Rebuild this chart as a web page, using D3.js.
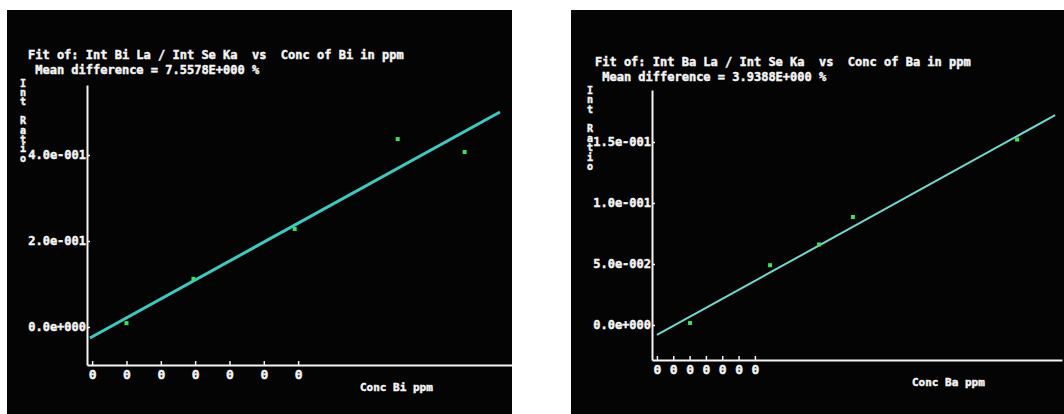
<!DOCTYPE html>
<html>
<head>
<meta charset="utf-8">
<script src="https://cdn.jsdelivr.net/npm/d3@7"></script>
<style>
  body { margin: 0; background: #fff; }
  text { font-family: "DejaVu Sans Mono", monospace; font-weight: bold; fill: #f4f4f4; stroke: #f4f4f4; stroke-width: 0.45px; }
</style>
</head>
<body>
<div class="container"></div>
<script>
// Bi calibration (left screen)
const biTitle = "Fit of: Int Bi La / Int Se Ka  vs  Conc of Bi in ppm";
const biMean = " Mean difference = 7.5578E+000 %";
const biXLabel = "Conc Bi ppm";
const biConc = [1.0, 2.95, 5.9, 8.9, 10.85];
const biRatio = [0.009, 0.112, 0.228, 0.437, 0.407];
const biFitConc = [-0.065, 11.88];
const biFitRatio = [-0.0256, 0.5];
const biXTicks = [0, 1, 2, 3, 4, 5, 6];
const biYTicks = [0, 0.2, 0.4];
const biYTickLabels = ["0.0e+000", "2.0e-001", "4.0e-001"];

// Ba calibration (right screen)
const baTitle = "Fit of: Int Ba La / Int Se Ka  vs  Conc of Ba in ppm";
const baMean = " Mean difference = 3.9388E+000 %";
const baXLabel = "Conc Ba ppm";
const baConc = [2.03, 6.93, 9.93, 12.0, 22.05];
const baRatio = [0.0016, 0.049, 0.066, 0.0885, 0.152];
const baFitConc = [0, 24.38];
const baFitRatio = [-0.0082, 0.172];
const baXTicks = [0, 1, 2, 3, 4, 5, 6];
const baYTicks = [0, 0.05, 0.1, 0.15];
const baYTickLabels = ["0.0e+000", "5.0e-002", "1.0e-001", "1.5e-001"];

const xTickLabel = "0";
const yLabel = "Int Ratio";

let svg = d3.select(".container")
  .append("svg")
  .attr("width", 1064)
  .attr("height", 414);

drawScreen({
  box: [7, 10, 505, 404],
  title: biTitle, mean: biMean, titleX: 28, titleY: 59,
  xLabel: biXLabel, xLabelPos: [360, 391],
  stackX: 23, stackY: 83, stackStep: 9.4,
  x: d3.scaleLinear().domain([-0.15, 12.23]).range([87, 512]),
  y: d3.scaleLinear().domain([-0.0884, 0.5628]).range([365, 85]),
  xTicks: biXTicks, yTicks: biYTicks, yTickLabels: biYTickLabels,
  conc: biConc, ratio: biRatio, fitConc: biFitConc, fitRatio: biFitRatio,
  fitColor: "#3ccabe", fitWidth: 3
});

drawScreen({
  box: [571, 10, 493, 404],
  title: baTitle, mean: baMean, titleX: 595, titleY: 66,
  xLabel: baXLabel, xLabelPos: [912, 386],
  stackX: 590, stackY: 90, stackStep: 9.6,
  x: d3.scaleLinear().domain([-0.3, 24.8]).range([652, 1062]),
  y: d3.scaleLinear().domain([-0.0287, 0.1926]).range([360, 90]),
  xTicks: baXTicks, yTicks: baYTicks, yTickLabels: baYTickLabels,
  conc: baConc, ratio: baRatio, fitConc: baFitConc, fitRatio: baFitRatio,
  fitColor: "#70d8ce", fitWidth: 2
});

function drawScreen(p) {
  let g = svg.append("g");
  g.append("rect")
    .attr("x", p.box[0])
    .attr("y", p.box[1])
    .attr("width", p.box[2])
    .attr("height", p.box[3])
    .attr("fill", "#040404");

  g.append("text")
    .attr("x", p.titleX)
    .attr("y", p.titleY)
    .attr("font-size", 12)
    .attr("xml:space", "preserve")
    .text(p.title);
  g.append("text")
    .attr("x", p.titleX)
    .attr("y", p.titleY + 15)
    .attr("font-size", 12)
    .attr("xml:space", "preserve")
    .text(p.mean);

  // y axis
  let yAxis = g.append("g")
    .attr("transform", `translate(${p.x.range()[0]},0)`)
    .call(d3.axisLeft(p.y)
      .tickValues(p.yTicks)
      .tickFormat((d, i) => p.yTickLabels[i])
      .tickSizeInner(-3)
      .tickSizeOuter(0)
      .tickPadding(4));
  // x axis
  let xAxis = g.append("g")
    .attr("transform", `translate(0,${p.y.range()[0]})`)
    .call(d3.axisBottom(p.x)
      .tickValues(p.xTicks)
      .tickFormat(() => xTickLabel)
      .tickSizeInner(-4)
      .tickSizeOuter(0)
      .tickPadding(5));

  [xAxis, yAxis].forEach(a => {
    a.select(".domain").attr("stroke", "#f4f4f4").attr("stroke-width", 2);
    a.selectAll(".tick line").attr("stroke", "#f4f4f4").attr("stroke-width", 1.5);
    a.selectAll(".tick text")
      .attr("fill", "#f4f4f4")
      .attr("font-size", 12)
      .attr("font-family", "DejaVu Sans Mono")
      .attr("font-weight", "bold");
  });
  yAxis.selectAll(".tick text").attr("x", -1);
  xAxis.selectAll(".tick text").attr("font-size", 13);

  g.append("text")
    .attr("x", p.xLabelPos[0])
    .attr("y", p.xLabelPos[1])
    .attr("font-size", 11)
    .text(p.xLabel);

  g.selectAll(null)
    .data(yLabel.split(""))
    .join("text")
    .attr("x", p.stackX)
    .attr("y", (d, i) => p.stackY + i * p.stackStep)
    .attr("text-anchor", "middle")
    .attr("dominant-baseline", "central")
    .attr("font-size", 10)
    .text(d => d);

  let line = d3.line()
    .x(d => p.x(d[0]))
    .y(d => p.y(d[1]));
  g.append("path")
    .datum(d3.zip(p.fitConc, p.fitRatio))
    .attr("d", line)
    .attr("stroke", p.fitColor)
    .attr("stroke-width", p.fitWidth)
    .attr("fill", "none");

  g.selectAll(".pt")
    .data(d3.zip(p.conc, p.ratio))
    .join("rect")
    .attr("class", "pt")
    .attr("x", d => p.x(d[0]) - 2)
    .attr("y", d => p.y(d[1]) - 2)
    .attr("width", 4)
    .attr("height", 4)
    .attr("fill", "#3ee05a");
}
</script>
</body>
</html>
